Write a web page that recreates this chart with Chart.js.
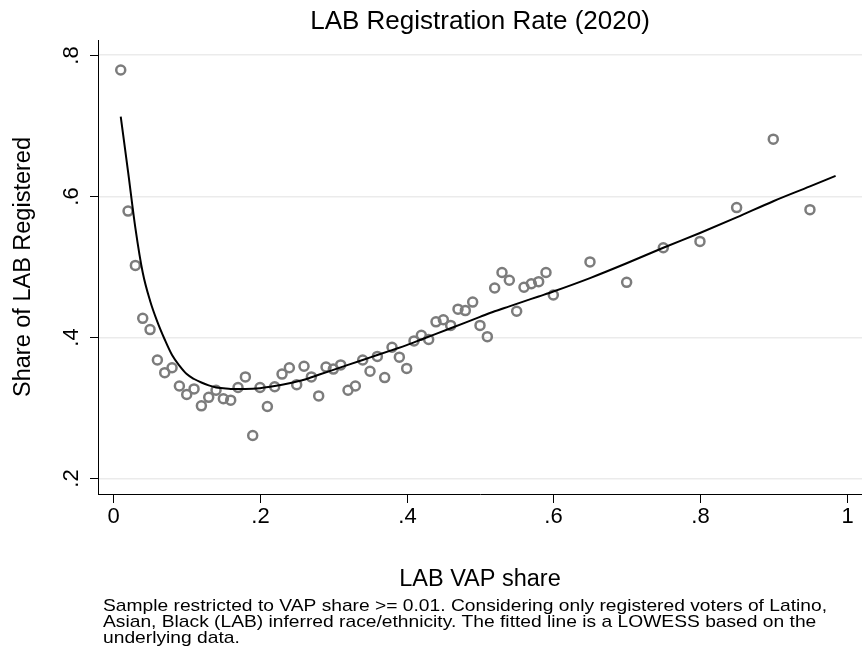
<!DOCTYPE html>
<html>
<head>
<meta charset="utf-8">
<script src="https://cdn.jsdelivr.net/npm/chart.js@4.4.1/dist/chart.umd.min.js"></script>
<style>
    html, body { margin: 0; padding: 0; background: #fff; overflow: hidden; }
    #wrap { width: 862px; height: 647px; position: relative; }
    canvas { display: block; }
</style>
</head>
<body>
<div id="wrap"><canvas id="scatterChart"></canvas></div>
<script>
// LAB VAP share (x) and share of LAB registered (y)
const vapShare = [
    0.01, 0.02, 0.03, 0.04, 0.05, 0.06, 0.07, 0.08, 0.09, 0.10,
    0.11, 0.12, 0.13, 0.14, 0.15, 0.16, 0.17, 0.18, 0.19, 0.20,
    0.21, 0.22, 0.23, 0.24, 0.25, 0.26, 0.27, 0.28, 0.29, 0.30,
    0.31, 0.32, 0.33, 0.34, 0.35, 0.36, 0.37, 0.38, 0.39, 0.40,
    0.41, 0.42, 0.43, 0.44, 0.45, 0.46, 0.47, 0.48, 0.49, 0.50,
    0.51, 0.52, 0.53, 0.54, 0.55, 0.56, 0.57, 0.58, 0.59, 0.60,
    0.65, 0.70, 0.75, 0.80, 0.85, 0.90, 0.95
];
const registered = [
    0.779, 0.579, 0.502, 0.427, 0.411, 0.368, 0.350, 0.357, 0.331, 0.319,
    0.327, 0.303, 0.315, 0.325, 0.313, 0.311, 0.329, 0.344, 0.261, 0.329,
    0.302, 0.330, 0.348, 0.357, 0.333, 0.359, 0.344, 0.317, 0.358, 0.355,
    0.361, 0.325, 0.331, 0.368, 0.352, 0.373, 0.343, 0.386, 0.372, 0.356,
    0.395, 0.403, 0.397, 0.422, 0.425, 0.417, 0.440, 0.438, 0.450, 0.417,
    0.401, 0.470, 0.492, 0.481, 0.437, 0.471, 0.476, 0.479, 0.492, 0.460,
    0.507, 0.478, 0.527, 0.536, 0.584, 0.681, 0.581
];

// LOWESS fitted line
const lowessX = [
    0.01, 0.02, 0.03, 0.04, 0.05, 0.06, 0.07, 0.08, 0.09, 0.10,
    0.11, 0.12, 0.13, 0.14, 0.15, 0.16, 0.18, 0.20, 0.22, 0.24,
    0.26, 0.28, 0.30, 0.32, 0.34, 0.36, 0.38, 0.40, 0.42, 0.44,
    0.46, 0.48, 0.50, 0.52, 0.54, 0.56, 0.58, 0.60, 0.65, 0.70,
    0.75, 0.80, 0.85, 0.90, 0.95, 0.985
];
const lowessY = [
    0.713, 0.635, 0.555, 0.492, 0.452, 0.422, 0.397, 0.375, 0.360, 0.348,
    0.341, 0.336, 0.332, 0.329, 0.328, 0.327, 0.327, 0.328, 0.331, 0.335,
    0.340, 0.347, 0.354, 0.361, 0.368, 0.375, 0.382, 0.389, 0.397, 0.405,
    0.413, 0.421, 0.429, 0.437, 0.444, 0.451, 0.458, 0.465, 0.484, 0.505,
    0.527, 0.548, 0.570, 0.593, 0.614, 0.629
];

const xTicks = [0, 0.2, 0.4, 0.6, 0.8, 1];
const yTicks = [0.2, 0.4, 0.6, 0.8];

const noteLines = [
    'Sample restricted to VAP share >= 0.01. Considering only registered voters of Latino,',
    'Asian, Black (LAB) inferred race/ethnicity. The fitted line is a LOWESS based on the',
    'underlying data.'
];

function stataLabel(v) {
    // Stata style: ".2" instead of "0.2"
    if (v === 0 || v === 1) return String(v);
    return String(v).replace(/^0/, '');
}

const FONT = '"Liberation Sans", Arial, sans-serif';

// Titles, tick marks, tick labels and note drawn around the plot region
const stataDecor = {
    id: 'stataDecor',
    afterDraw: function(chart) {
        const ctx = chart.ctx;
        const area = chart.chartArea;
        const xs = chart.scales.x;
        const ys = chart.scales.y;
        ctx.save();
        ctx.fillStyle = '#000';
        ctx.strokeStyle = '#000';
        ctx.lineWidth = 1;

        // x tick marks and labels
        ctx.font = '22px ' + FONT;
        ctx.textAlign = 'center';
        ctx.textBaseline = 'middle';
        xTicks.forEach(function(v) {
            const px = Math.round(xs.getPixelForValue(v)) + 0.5;
            ctx.beginPath();
            ctx.moveTo(px, area.bottom);
            ctx.lineTo(px, area.bottom + 9);
            ctx.stroke();
            ctx.fillText(stataLabel(v), px, area.bottom + 23);
        });

        // y tick marks and rotated labels
        yTicks.forEach(function(v) {
            const py = Math.round(ys.getPixelForValue(v)) + 0.5;
            ctx.beginPath();
            ctx.moveTo(area.left - 8, py);
            ctx.lineTo(area.left, py);
            ctx.stroke();
            ctx.save();
            ctx.translate(area.left - 26, py);
            ctx.rotate(-Math.PI / 2);
            ctx.fillText(stataLabel(v), 0, 0);
            ctx.restore();
        });

        const midX = (area.left + area.right) / 2;
        const midY = (area.top + area.bottom) / 2;

        // chart title
        ctx.font = '26px ' + FONT;
        ctx.fillText('LAB Registration Rate (2020)', midX, 22);

        // axis titles
        ctx.font = '23.5px ' + FONT;
        ctx.fillText('LAB VAP share', midX, 580);
        ctx.save();
        ctx.translate(24, midY);
        ctx.rotate(-Math.PI / 2);
        ctx.fillText('Share of LAB Registered', 0, 0);
        ctx.restore();

        // note: Stata text is wider than Liberation at the same height
        ctx.font = '17px ' + FONT;
        ctx.textAlign = 'left';
        const stretch = 724 / ctx.measureText(noteLines[0]).width;
        noteLines.forEach(function(line, i) {
            ctx.save();
            ctx.translate(103, 606 + i * 16);
            ctx.scale(stretch, 1);
            ctx.fillText(line, 0, 0);
            ctx.restore();
        });
        ctx.restore();
    }
};

const ctx = document.getElementById('scatterChart').getContext('2d');

const scatterChart = new Chart(ctx, {
    type: 'scatter',
    data: {
        datasets: [{
            type: 'line',
            label: 'LOWESS',
            data: lowessX.map((x, i) => ({ x: x, y: lowessY[i] })),
            borderColor: '#000',
            borderWidth: 2,
            pointRadius: 0,
            fill: false,
            cubicInterpolationMode: 'monotone'
        }, {
            label: 'Share registered',
            data: vapShare.map((x, i) => ({ x: x, y: registered[i] })),
            backgroundColor: 'rgba(0,0,0,0)',
            borderColor: '#7c7c7c',
            borderWidth: 2.5,
            pointRadius: 4.5,
            pointHoverRadius: 4.5
        }]
    },
    options: {
        responsive: true,
        maintainAspectRatio: false,
        animation: false,
        layout: {
            autoPadding: false,
            padding: { left: 98, right: 0, top: 40, bottom: 153 }
        },
        scales: {
            x: {
                type: 'linear',
                min: -0.021,
                max: 1.021,
                afterBuildTicks: function(scale) {
                    scale.ticks = xTicks.map(v => ({ value: v }));
                },
                ticks: { display: false },
                grid: { display: false, drawTicks: false },
                border: { display: true, color: '#000', width: 1 }
            },
            y: {
                type: 'linear',
                min: 0.178,
                max: 0.8215,
                afterBuildTicks: function(scale) {
                    scale.ticks = yTicks.map(v => ({ value: v }));
                },
                ticks: { display: false },
                grid: {
                    display: true,
                    drawTicks: false,
                    color: '#ebebeb',
                    lineWidth: 1.5
                },
                border: { display: true, color: '#000', width: 1 }
            }
        },
        plugins: {
            legend: { display: false },
            tooltip: { enabled: false }
        }
    },
    plugins: [stataDecor]
});
</script>
</body>
</html>
